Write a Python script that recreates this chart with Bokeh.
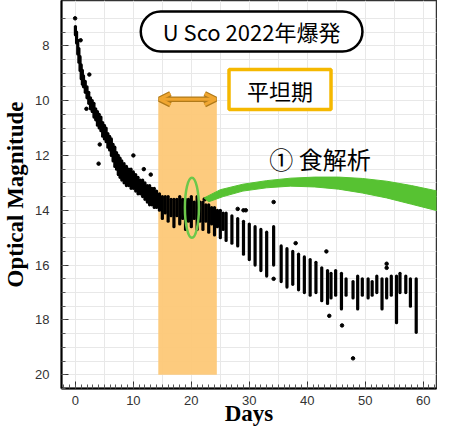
from bokeh.plotting import figure
from bokeh.models import Range1d, FixedTicker, Label, Arrow, OpenHead
from bokeh.embed import file_html
from bokeh.resources import INLINE

# ---- data ----
# nightly streaks of observations: day, brightest mag, faintest mag
streak_day = [0.0, 0.2, 0.4, 0.6, 0.8, 1.0, 1.2, 1.4, 1.7, 2.0, 2.3, 2.6, 2.9, 3.2, 3.5,
              3.8, 4.1, 4.4, 4.7, 5.0, 5.3, 5.6, 5.9, 6.2, 6.5, 6.8, 7.1, 7.4, 7.7, 8.0,
              8.4, 8.8, 9.2, 9.6, 10.0, 10.4, 10.8, 11.2, 11.6, 12.0, 12.4, 12.8, 13.2, 13.6, 14.0,
              14.5, 15.0, 15.5, 16.0, 16.5, 17.0, 17.5, 18.0, 18.5, 19.0, 19.5, 20.0, 20.5, 21.0,
              21.5, 22.0, 22.5, 23.0, 23.5, 24.0, 24.5, 25.0, 25.5, 26.0, 27.0, 28.0, 29.0, 30.0,
              31.0, 32.0, 33.0, 34.2, 35.5, 36.5, 37.5, 38.5, 39.5, 40.5, 41.5, 42.5, 43.5,
              44.1, 44.9, 45.9, 46.7, 47.9, 48.7, 49.5, 50.5, 51.2, 52.0, 52.9, 53.7, 54.5,
              55.4, 56.0, 57.0, 57.8, 58.8]
streak_bright = [7.3, 7.5, 7.8, 8.1, 8.4, 8.7, 8.9, 9.1, 9.3, 9.5, 9.7, 9.9, 10.0, 10.1, 10.3,
                 10.4, 10.5, 10.6, 10.8, 10.9, 11.0, 11.2, 11.3, 11.4, 11.6, 11.7, 11.9, 12.0, 12.1, 12.2,
                 12.3, 12.4, 12.5, 12.5, 12.6, 12.7, 12.8, 12.9, 12.9, 13.0, 13.1, 13.1, 13.2, 13.2, 13.3,
                 13.4, 13.5, 13.5, 13.5, 13.6, 13.6, 13.6, 13.5, 13.6, 13.6, 13.6, 13.5, 13.7, 13.5,
                 13.7, 13.7, 13.8, 13.8, 13.9, 13.9, 14.0, 14.0, 14.1, 14.1, 14.2, 14.3, 14.4, 14.5,
                 14.6, 14.7, 14.8, 14.6, 15.3, 15.4, 15.5, 15.6, 15.7, 15.8, 15.9, 16.1, 16.2,
                 16.3, 16.2, 16.3, 16.5, 16.6, 16.4, 16.5, 16.5, 16.6, 16.4, 16.5, 16.5, 16.4,
                 16.4, 16.3, 16.4, 16.5, 16.5]
streak_faint = [7.6, 7.9, 8.3, 8.6, 8.9, 9.2, 9.4, 9.5, 9.7, 9.9, 10.1, 10.3, 10.4, 10.6, 10.7,
                10.9, 11.0, 11.1, 11.3, 11.4, 11.5, 11.7, 11.8, 12.0, 12.2, 12.4, 12.5, 12.7, 12.8, 12.9,
                13.0, 13.1, 13.1, 13.2, 13.2, 13.3, 13.4, 13.4, 13.5, 13.6, 13.7, 13.8, 13.8, 13.9, 13.9,
                14.0, 14.3, 14.1, 14.4, 14.2, 14.6, 14.2, 14.5, 14.3, 14.7, 14.4, 14.6, 14.3, 14.7,
                14.4, 14.7, 14.4, 14.8, 14.5, 14.9, 14.6, 15.0, 14.7, 15.1, 15.2, 15.3, 15.6, 15.8,
                16.0, 16.2, 16.4, 16.0, 16.6, 16.8, 16.7, 16.9, 17.0, 17.1, 17.0, 17.3, 17.4,
                17.2, 17.1, 17.6, 17.1, 17.2, 17.6, 17.1, 17.2, 17.1, 17.0, 17.6, 17.2, 17.1,
                18.1, 17.0, 17.0, 17.5, 18.45]

# isolated observations
outlier_day = [-0.05, 0.9, 2.4, 1.9, 4.2, 4.0, 10.0, 11.8, 13.0, 22.3, 28.0, 29.0, 29.4,
               34.2, 34.2, 38.0, 43.3, 43.8, 46.0, 47.9, 53.7, 53.7]
outlier_mag = [7.0, 7.8, 9.05, 10.3, 11.6, 12.3, 12.0, 12.5, 12.7, 13.6, 13.95, 14.0, 14.0,
               13.7, 16.5, 15.2, 15.5, 17.85, 18.2, 19.4, 16.1, 15.95]

x_ticks = [0, 10, 20, 30, 40, 50, 60]
y_ticks = [8, 10, 12, 14, 16, 18, 20]

# annotation geometry (data units)
plateau_start, plateau_end = 14.3, 24.4
plateau_top, plateau_bottom = 9.95, 20.0
swoosh_x = [22.2, 25.0, 28.9, 33.0, 37.1, 41.3, 45.4, 49.5, 53.7, 58.0, 62.5,
            62.5, 58.0, 53.7, 49.5, 45.4, 41.3, 37.1, 33.0, 28.9, 25.5, 23.0]
swoosh_y = [13.55, 13.25, 13.05, 12.92, 12.83, 12.79, 12.79, 12.84, 12.94, 13.1, 13.3,
            14.02, 13.78, 13.55, 13.37, 13.23, 13.15, 13.12, 13.18, 13.3, 13.5, 13.69]
eclipse_day, eclipse_mag = 20.1, 13.91

# ---- figure ----
p = figure(width=437, height=430, x_range=Range1d(-2.4, 62.3), y_range=Range1d(20.5, 6.35),
           output_backend="svg", toolbar_location=None,
           min_border_left=53, min_border_right=1, min_border_top=0, min_border_bottom=42)
p.background_fill_color = "white"
p.outline_line_color = "#333333"
p.outline_line_width = 1.5

p.xgrid.ticker = FixedTicker(ticks=list(range(0, 65, 5)))
p.ygrid.ticker = FixedTicker(ticks=[7 + 0.5 * i for i in range(28)])
for g in (p.xgrid, p.ygrid):
    g.grid_line_color = "#e8e8e8"
    g.grid_line_width = 1

for ax in (p.xaxis, p.yaxis):
    ax.axis_line_color = "black"
    ax.axis_line_width = 2
    ax.major_tick_in = 7
    ax.major_tick_out = 0
    ax.minor_tick_in = 4
    ax.minor_tick_out = 0
    ax.major_tick_line_color = "#333333"
    ax.minor_tick_line_color = "#555555"
    ax.major_label_text_font = "Liberation Sans"
    ax.major_label_text_font_size = "13px"
    ax.major_label_text_color = "#333333"
    ax.axis_label_text_font = "Liberation Serif"
    ax.axis_label_text_font_style = "bold"
    ax.axis_label_text_font_size = "23px"
    ax.axis_label_text_color = "black"

p.xaxis.ticker = FixedTicker(ticks=x_ticks, minor_ticks=list(range(-2, 63)))
p.yaxis.ticker = FixedTicker(ticks=y_ticks, minor_ticks=[7 + 0.5 * i for i in range(28)])
p.yaxis.axis_label = "Optical Magnitude"
p.xaxis.axis_label = "Days"
p.xaxis.major_label_standoff = 7
p.xaxis.axis_label_standoff = -7
p.yaxis.major_label_standoff = 12
p.yaxis.axis_label_standoff = 4

# plateau band
p.quad(left=[plateau_start], right=[plateau_end], top=[plateau_top], bottom=[plateau_bottom],
       fill_color="#FDC877", fill_alpha=0.95, line_color=None)

# light curve
p.segment(x0=streak_day, y0=streak_bright, x1=streak_day, y1=streak_faint,
          line_color="black", line_width=3.2, line_cap="round")
p.scatter(outlier_day, outlier_mag, size=3.5, color="black")

# eclipse-analysis marker
p.patch(swoosh_x, swoosh_y, fill_color="#57C232", line_color="#57C232", line_width=1)
p.ellipse(x=[eclipse_day], y=[eclipse_mag], width=14, height=60,
          width_units="screen", height_units="screen",
          fill_color=None, line_color="#6CC84A", line_width=2.5)

# double arrow
for lw, col in ((5.5, "#B07A1A"), (3, "#F0A630")):
    p.add_layout(Arrow(start=OpenHead(size=11, line_color=col, line_width=lw),
                       end=OpenHead(size=11, line_color=col, line_width=lw),
                       x_start=plateau_start + 0.2, y_start=plateau_top, x_end=plateau_end - 0.2,
                       y_end=plateau_top, line_color=col, line_width=lw))

cjk = "Noto Sans CJK JP"
p.add_layout(Label(x=30.4, y=7.48, text="U Sco 2022年爆発", text_font=cjk, text_font_size="22px",
                   text_align="center", text_baseline="middle", text_color="black",
                   background_fill_color="white", border_line_color="black", border_line_width=2.5,
                   padding=(22, 22, 4, 4), border_radius=20))
p.add_layout(Label(x=35.3, y=9.6, text="平坦期", text_font=cjk, text_font_size="22px",
                   text_align="center", text_baseline="middle", text_color="black",
                   background_fill_color="white", border_line_color="#F5B800", border_line_width=3.5,
                   padding=(18, 18, 4, 4)))
p.add_layout(Label(x=42.2, y=12.1, text="① 食解析", text_font=cjk, text_font_size="24px",
                   text_align="center", text_baseline="middle", text_color="black"))

open("out.html", "w").write(file_html(p, INLINE))
